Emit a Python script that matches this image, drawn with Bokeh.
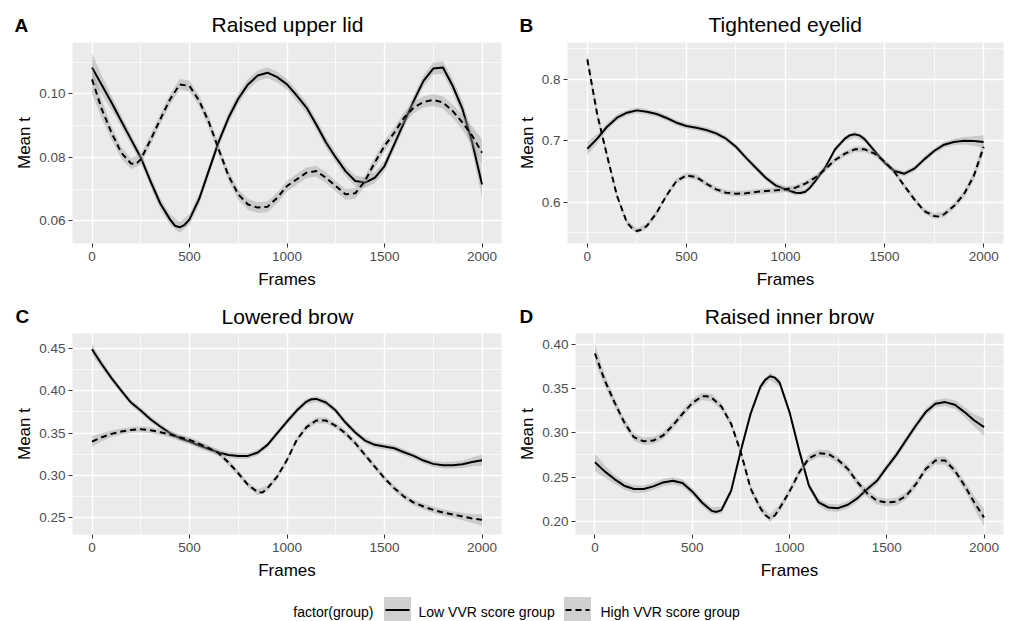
from bokeh.plotting import figure
from bokeh.layouts import column, row
from bokeh.models import FixedTicker, Range1d
from bokeh.core.properties import value
from bokeh.embed import file_html
from bokeh.resources import INLINE

FONT = "Liberation Sans"

# ---------------- data ----------------
frames = list(range(0, 2001, 50))
x_major = [0, 500, 1000, 1500, 2000]
x_minor = [250, 750, 1250, 1750]
x_labels = ["0", "500", "1000", "1500", "2000"]
groups = ["Low VVR score group", "High VVR score group"]
legend_title = "factor(group)"

titles = ["Raised upper lid", "Tightened eyelid", "Lowered brow", "Raised inner brow"]
letters = ["A", "B", "C", "D"]

A_low = [0.1083, 0.1028, 0.0973, 0.0915, 0.0857, 0.0800, 0.0725, 0.0655, 0.0605, 0.0580,
         0.0605, 0.0670, 0.0760, 0.0850, 0.0925, 0.0985, 0.1030, 0.1058, 0.1067, 0.1053,
         0.1030, 0.0995, 0.0957, 0.0904, 0.0847, 0.0800, 0.0757, 0.0726, 0.0721, 0.0736,
         0.0773, 0.0841, 0.0910, 0.0978, 0.1041, 0.1080, 0.1083, 0.1025, 0.0952, 0.0847,
         0.0715]
A_high = [0.1046, 0.0952, 0.0878, 0.0815, 0.0781, 0.0794, 0.0855, 0.0920, 0.0983, 0.1030,
          0.1025, 0.0978, 0.0910, 0.0825, 0.0742, 0.0684, 0.0652, 0.0642, 0.0645, 0.0673,
          0.0710, 0.0731, 0.0752, 0.0757, 0.0736, 0.0710, 0.0684, 0.0687, 0.0726, 0.0784,
          0.0836, 0.0878, 0.0925, 0.0957, 0.0975, 0.0981, 0.0973, 0.0946, 0.0910, 0.0868,
          0.0815]
A_se = [0.0045, 0.0030, 0.0022, 0.0019, 0.0017, 0.0017, 0.0017, 0.0017, 0.0017, 0.0017,
        0.0017, 0.0017, 0.0017, 0.0017, 0.0017, 0.0017, 0.0017, 0.0017, 0.0017, 0.0017,
        0.0017, 0.0017, 0.0017, 0.0017, 0.0017, 0.0017, 0.0017, 0.0017, 0.0017, 0.0017,
        0.0017, 0.0017, 0.0017, 0.0018, 0.0018, 0.0019, 0.0020, 0.0021, 0.0024, 0.0030,
        0.0042]
# extra readings at sharp turns (frame, value)
A_low_extra = [(425, 0.0585), (475, 0.0588)]
A_high_extra = [(225, 0.0779)]

B_low = [0.6870, 0.7033, 0.7228, 0.7374, 0.7455, 0.7493, 0.7472, 0.7434, 0.7369, 0.7293,
         0.7238, 0.7211, 0.7173, 0.7119, 0.7033, 0.6902, 0.6724, 0.6561, 0.6398, 0.6274,
         0.6209, 0.6154, 0.6171, 0.6344, 0.6561, 0.6859, 0.7033, 0.7103, 0.7022, 0.6832,
         0.6642, 0.6507, 0.6463, 0.6545, 0.6696, 0.6832, 0.6935, 0.6978, 0.7000, 0.6995,
         0.6978]
B_high = [0.8322, 0.7428, 0.6751, 0.6100, 0.5667, 0.5531, 0.5612, 0.5829, 0.6111, 0.6344,
          0.6436, 0.6409, 0.6301, 0.6209, 0.6154, 0.6138, 0.6144, 0.6165, 0.6182, 0.6192,
          0.6209, 0.6236, 0.6301, 0.6398, 0.6534, 0.6686, 0.6789, 0.6859, 0.6859, 0.6789,
          0.6659, 0.6491, 0.6263, 0.6046, 0.5856, 0.5775, 0.5802, 0.5938, 0.6127, 0.6425,
          0.6900]
B_se = [0.0110, 0.0075, 0.0058, 0.0050, 0.0046, 0.0045, 0.0045, 0.0045, 0.0045, 0.0045,
        0.0045, 0.0045, 0.0045, 0.0045, 0.0045, 0.0045, 0.0045, 0.0045, 0.0045, 0.0045,
        0.0045, 0.0045, 0.0045, 0.0045, 0.0045, 0.0045, 0.0045, 0.0045, 0.0045, 0.0045,
        0.0045, 0.0045, 0.0045, 0.0045, 0.0045, 0.0046, 0.0048, 0.0052, 0.0060, 0.0078,
        0.0110]
B_low_extra = [(1075, 0.6150), (1125, 0.6240), (1325, 0.7090), (1375, 0.7085)]
B_high_extra = [(225, 0.5580), (275, 0.5555), (1775, 0.5765)]

C_low = [0.4492, 0.4314, 0.4149, 0.4003, 0.3861, 0.3766, 0.3663, 0.3577, 0.3498, 0.3439,
         0.3399, 0.3352, 0.3309, 0.3269, 0.3241, 0.3229, 0.3229, 0.3269, 0.3360, 0.3498,
         0.3636, 0.3766, 0.3872, 0.3904, 0.3861, 0.3766, 0.3624, 0.3506, 0.3411, 0.3360,
         0.3340, 0.3320, 0.3273, 0.3229, 0.3174, 0.3135, 0.3119, 0.3119, 0.3131, 0.3158,
         0.3178]
C_high = [0.3399, 0.3450, 0.3490, 0.3517, 0.3537, 0.3545, 0.3533, 0.3510, 0.3482, 0.3450,
          0.3419, 0.3372, 0.3320, 0.3261, 0.3151, 0.3024, 0.2886, 0.2800, 0.2847, 0.2985,
          0.3182, 0.3419, 0.3569, 0.3648, 0.3648, 0.3585, 0.3498, 0.3380, 0.3241, 0.3103,
          0.2965, 0.2847, 0.2748, 0.2677, 0.2630, 0.2590, 0.2559, 0.2535, 0.2512, 0.2488,
          0.2472]
C_se = [0.0065, 0.0048, 0.0040, 0.0036, 0.0035, 0.0035, 0.0035, 0.0035, 0.0035, 0.0035,
        0.0035, 0.0035, 0.0035, 0.0035, 0.0035, 0.0035, 0.0035, 0.0035, 0.0035, 0.0035,
        0.0035, 0.0035, 0.0035, 0.0035, 0.0035, 0.0035, 0.0035, 0.0035, 0.0035, 0.0035,
        0.0035, 0.0035, 0.0035, 0.0035, 0.0035, 0.0036, 0.0038, 0.0040, 0.0045, 0.0052,
        0.0068]
C_low_extra = [(1125, 0.3900)]
C_high_extra = [(875, 0.2795)]

D_low = [0.2667, 0.2564, 0.2477, 0.2402, 0.2364, 0.2364, 0.2394, 0.2439, 0.2458, 0.2432,
         0.2337, 0.2212, 0.2117, 0.2125, 0.2345, 0.2799, 0.3216, 0.3519, 0.3640, 0.3564,
         0.3235, 0.2799, 0.2402, 0.2212, 0.2155, 0.2148, 0.2186, 0.2261, 0.2364, 0.2458,
         0.2610, 0.2754, 0.2920, 0.3083, 0.3235, 0.3330, 0.3348, 0.3318, 0.3235, 0.3140,
         0.3064]
D_high = [0.3898, 0.3595, 0.3348, 0.3121, 0.2951, 0.2905, 0.2913, 0.2970, 0.3083, 0.3216,
          0.3337, 0.3413, 0.3398, 0.3299, 0.3102, 0.2780, 0.2370, 0.2150, 0.2030, 0.2150,
          0.2335, 0.2553, 0.2712, 0.2769, 0.2761, 0.2693, 0.2591, 0.2439, 0.2314, 0.2231,
          0.2212, 0.2220, 0.2288, 0.2420, 0.2591, 0.2686, 0.2686, 0.2572, 0.2402, 0.2212,
          0.2042]
D_se = [0.0100, 0.0070, 0.0052, 0.0046, 0.0044, 0.0042, 0.0042, 0.0042, 0.0042, 0.0042,
        0.0042, 0.0042, 0.0042, 0.0042, 0.0042, 0.0042, 0.0042, 0.0042, 0.0042, 0.0042,
        0.0042, 0.0042, 0.0042, 0.0042, 0.0042, 0.0042, 0.0042, 0.0042, 0.0042, 0.0042,
        0.0042, 0.0042, 0.0042, 0.0042, 0.0042, 0.0043, 0.0045, 0.0048, 0.0055, 0.0070,
        0.0100]
D_low_extra = [(625, 0.2105), (875, 0.3600), (925, 0.3625)]
D_high_extra = [(875, 0.2070), (925, 0.2065), (575, 0.3415)]

A_yticks = [0.06, 0.08, 0.10]
A_ylabels = ["0.06", "0.08", "0.10"]
A_yminor = [0.05, 0.07, 0.09, 0.11]
B_yticks = [0.6, 0.7, 0.8]
B_ylabels = ["0.6", "0.7", "0.8"]
B_yminor = [0.55, 0.65, 0.75, 0.85]
C_yticks = [0.25, 0.30, 0.35, 0.40, 0.45]
C_ylabels = ["0.25", "0.30", "0.35", "0.40", "0.45"]
C_yminor = [0.225, 0.275, 0.325, 0.375, 0.425]
D_yticks = [0.20, 0.25, 0.30, 0.35, 0.40]
D_ylabels = ["0.20", "0.25", "0.30", "0.35", "0.40"]
D_yminor = [0.175, 0.225, 0.275, 0.325, 0.375]

BG = "#EBEBEB"
RIBBON = "#999999"
X0, X1 = -100, 2100
W = 1011


def merged(ys, extra):
    pts = sorted(list(zip(frames, ys)) + list(extra))
    return [p[0] for p in pts], [p[1] for p in pts]


def make_panel(low, high, se, low_extra, high_extra, yr, yt, yl, ym,
               w, h, bl, br, bb):
    p = figure(width=w, height=h, title=None,
               min_border_left=bl, min_border_right=br,
               min_border_top=0, min_border_bottom=bb,
               x_range=Range1d(X0, X1), y_range=Range1d(*yr),
               output_backend="svg", toolbar_location=None)
    p.background_fill_color = BG
    p.border_fill_color = "white"
    p.outline_line_color = None

    p.xaxis.ticker = FixedTicker(ticks=x_major, minor_ticks=x_minor)
    p.yaxis.ticker = FixedTicker(ticks=yt, minor_ticks=ym)
    p.xaxis.major_label_overrides = dict(zip(x_major, x_labels))
    p.yaxis.major_label_overrides = dict(zip(yt, yl))

    for g in (p.xgrid, p.ygrid):
        g.grid_line_color = "white"
        g.grid_line_width = 1.4
        g.minor_grid_line_color = "white"
        g.minor_grid_line_width = 0.7

    for ax in (p.xaxis, p.yaxis):
        ax.axis_line_color = None
        ax.major_tick_line_color = "#333333"
        ax.major_tick_in = 0
        ax.major_tick_out = 4
        ax.minor_tick_line_color = None
        ax.major_label_text_font = FONT
        ax.major_label_text_font_size = "13.5px"
        ax.major_label_text_color = "#4D4D4D"
        ax.axis_label_text_font = FONT
        ax.axis_label_text_font_size = "17px"
        ax.axis_label_text_font_style = "normal"
        ax.axis_label_text_color = "black"
    p.xaxis.axis_label = "Frames"
    p.yaxis.axis_label = "Mean t"
    p.xaxis.major_label_standoff = 4
    p.yaxis.major_label_standoff = 3
    p.xaxis.axis_label_standoff = 6
    p.yaxis.axis_label_standoff = 2

    lo1 = [m - s for m, s in zip(low, se)]
    hi1 = [m + s for m, s in zip(low, se)]
    lo2 = [m - s for m, s in zip(high, se)]
    hi2 = [m + s for m, s in zip(high, se)]
    xl, yl_ = merged(low, low_extra)
    xh, yh_ = merged(high, high_extra)
    p.varea(x=frames, y1=lo1, y2=hi1, fill_color=RIBBON, fill_alpha=0.4)
    p.line(xl, yl_, line_color="black", line_width=2, line_join="round")
    p.varea(x=frames, y1=lo2, y2=hi2, fill_color=RIBBON, fill_alpha=0.4)
    p.line(xh, yh_, line_color="black", line_width=2, line_dash="6 4",
           line_join="round")
    return p


def strip(h):
    s = figure(width=W, height=h, x_range=Range1d(0, W), y_range=Range1d(h, 0),
               min_border=0, title=None, x_axis_location=None, y_axis_location=None,
               output_backend="svg", toolbar_location=None)
    s.grid.visible = False
    s.outline_line_color = None
    s.background_fill_color = "white"
    s.border_fill_color = "white"
    return s


def header(h, titles_pair, letters_pair, title_x, letter_x, title_mid, letter_mid):
    s = strip(h)
    s.text(x=title_x, y=[title_mid] * 2, text=list(titles_pair), text_font=value(FONT),
           text_font_size="21px", text_align="center", text_baseline="middle",
           text_color="black")
    s.text(x=letter_x, y=[letter_mid] * 2, text=list(letters_pair), text_font=value(FONT),
           text_font_size="19px", text_font_style="bold", text_align="left",
           text_baseline="middle", text_color="black")
    return s


h1 = header(42, titles[0:2], letters[0:2], [287, 784.7], [14, 519], 23.6, 25)
pA = make_panel(A_low, A_high, A_se, A_low_extra, A_high_extra, (0.0529, 0.1162),
                A_yticks, A_ylabels, A_yminor, 505, 253, 72, 4, 52)
pB = make_panel(B_low, B_high, B_se, B_low_extra, B_high_extra, (0.5328, 0.8597),
                B_yticks, B_ylabels, B_yminor, 506, 253, 62, 8, 52)
h2 = header(38, titles[2:4], letters[2:4], [287, 788.9], [15, 519], 20.5, 20.8)
pC = make_panel(C_low, C_high, C_se, C_low_extra, C_high_extra, (0.2299, 0.4678),
                C_yticks, C_ylabels, C_yminor, 505, 257, 72, 4, 56)
pD = make_panel(D_low, D_high, D_se, D_low_extra, D_high_extra, (0.18495, 0.41245),
                D_yticks, D_ylabels, D_yminor, 506, 257, 70, 8, 56)

# ---------------- legend strip ----------------
leg = strip(31)
leg.text(x=[373], y=[21.5], text=[legend_title], text_font=value(FONT),
         text_font_size="14px", text_align="right", text_baseline="middle",
         text_color="black")
leg.rect(x=[397, 577], y=[18.5, 18.5], width=27, height=24, fill_color="#CFCFCF",
         line_color=None)
leg.segment(x0=[385], y0=[19.5], x1=[409], y1=[19.5], line_color="black", line_width=2)
leg.segment(x0=[565], y0=[19.5], x1=[589], y1=[19.5], line_color="black", line_width=2,
            line_dash="6 4")
leg.text(x=[418, 600], y=[21.5, 21.5], text=groups, text_font=value(FONT),
         text_font_size="14px", text_baseline="middle", text_color="black")

layout = column(h1, row(pA, pB, spacing=0), h2, row(pC, pD, spacing=0), leg, spacing=0)

with open("out.html", "w") as f:
    f.write(file_html(layout, INLINE))
